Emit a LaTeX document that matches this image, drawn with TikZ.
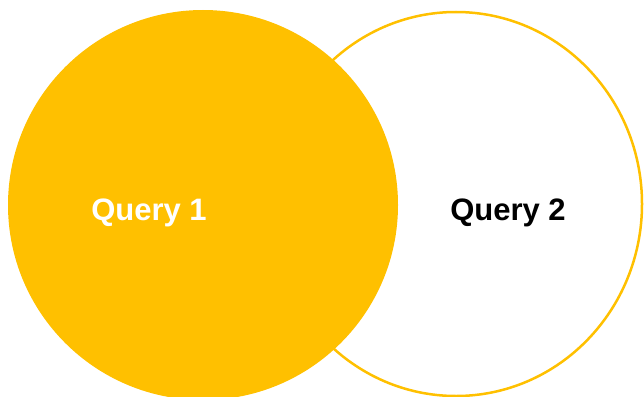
\documentclass[tikz,border=0pt]{standalone}
\usepackage{fontspec}
\setmainfont{Liberation Sans}
\usetikzlibrary{shapes.geometric}
\definecolor{gold}{HTML}{FFC000}

\begin{document}
\begin{tikzpicture}[x=1pt, y=-1pt,
  set/.style={ellipse, inner sep=0pt},
  label/.style={font=\fontsize{31}{37}\selectfont\bfseries, anchor=base}]

  \useasboundingbox (0,0) rectangle (644,396);
  \clip (0,0) rectangle (644,396);

  \node[set, draw=gold, line width=2.5pt, minimum width=372pt, minimum height=384pt] (Q2) at (456,204) {};
  \node[set, fill=gold, minimum width=390pt, minimum height=390pt] (Q1) at (203,205) {};

  \node[label, text=white] (L1) at (149,220) {Query 1};
  \node[label, text=black] (L2) at (508,220) {Query 2};

\end{tikzpicture}
\end{document}
